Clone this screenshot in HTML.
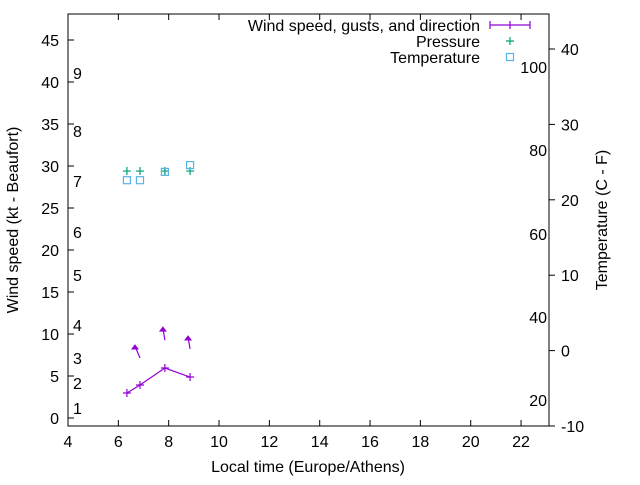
<!DOCTYPE html>
<html><head><meta charset="utf-8"><style>
body{margin:0;background:#fff}
svg{font-family:"Liberation Sans",sans-serif;font-size:16px}
</style></head><body>
<svg id="c" width="640" height="480"></svg>
<script>
const xTicks=[4,6,8,10,12,14,16,18,20,22];
const yTicks=[0,5,10,15,20,25,30,35,40,45];
const tTicks=[-10,0,10,20,30,40];
const times=[6.34,6.86,7.85,8.85];
const wind=[2.98,3.93,5.95,4.88];
const gust=[8.57,10.7,9.64];
const gustTimes=[6.86,7.85,8.85];
const gustDx=[-0.2,-0.08,-0.08];
const pressure=[29.4,29.4,29.4,29.4];
const temps=[22.6,22.6,23.7,24.6];
const beaufort=[["1",408],["2",383],["3",358],["4",325],["5",275],["6",232],["7",181],["8",131],["9",73]];
const fahr=[["20",400],["40",317],["60",234],["80",150],["100",67]];
const L=68,R=549,T=14,B=426;
const X=v=>L+(v-4)*25.17;
const Y=v=>418-v*8.4;
const TY=v=>426-(v+10)*7.54;
const s=document.getElementById('c');
const NS='http://www.w3.org/2000/svg';
function el(t,a,txt){const e=document.createElementNS(NS,t);for(const k in a)e.setAttribute(k,a[k]);if(txt!==undefined)e.textContent=txt;s.appendChild(e);return e;}
let e;
e=el('rect',{x:L,y:T,width:R-L,height:B-T,fill:'none',stroke:'#000'});


xTicks.forEach(v=>{
 e=el('line',{x1:X(v),x2:X(v),y1:B,y2:B-6,stroke:'#000'});
 
 
 e=el('line',{x1:X(v),x2:X(v),y1:T,y2:T+6,stroke:'#000'});
 
 
 e=el('text',{x:X(v),y:B+21,'text-anchor':'middle'},v);
 
 
});
yTicks.forEach(v=>{
 e=el('line',{x1:L,x2:L+6,y1:Y(v),y2:Y(v),stroke:'#000'});
 
 
 e=el('text',{x:L-9,y:Y(v)+6,'text-anchor':'end'},v);
 
 
});
tTicks.forEach(v=>{
 e=el('line',{x1:R,x2:R+6,y1:TY(v),y2:TY(v),stroke:'#000'});
 
 
 e=el('text',{x:R+12,y:TY(v)+6},v);
 
 
});
beaufort.forEach(b=>{
 e=el('text',{x:73,y:b[1]+6},b[0]);
 
 
});
fahr.forEach(f=>{
 e=el('text',{x:547,y:f[1]+6,'text-anchor':'end'},f[0]);
 
 
});
e=el('text',{x:308,y:472,'text-anchor':'middle'},'Local time (Europe/Athens)');


e=el('text',{x:18,y:220,'text-anchor':'middle',transform:'rotate(-90 18 220)'},'Wind speed (kt - Beaufort)');


e=el('text',{x:607,y:220,'text-anchor':'middle',transform:'rotate(-90 607 220)'},'Temperature (C - F)');


function plus(x,y,c,n){
 e=el('path',{d:`M${x-4} ${y}h8M${x} ${y-4}v8`,stroke:c,'stroke-width':1.2,fill:'none'});
 
 
}
e=el('polyline',{points:times.map((t,i)=>X(t)+','+Y(wind[i])).join(' '),fill:'none',stroke:'#9400d3','stroke-width':1.2});


times.forEach((t,i)=>plus(X(t),Y(wind[i]),'#9400d3','wind-point'));
gustTimes.forEach((t,i)=>{
 const hx=X(t+gustDx[i]),hy=Y(gust[i]),tx=X(t),ty=hy+12;
 e=el('line',{x1:tx,y1:ty,x2:hx,y2:hy,stroke:'#9400d3','stroke-width':1.2});
 
 
 e=el('path',{d:`M${hx} ${hy-1}l-3 4l6 0z`,fill:'#9400d3',stroke:'#9400d3'});
 
 
});
times.forEach((t,i)=>plus(X(t),Y(pressure[i]),'#009e73','pressure-point'));
times.forEach((t,i)=>{
 e=el('rect',{x:X(t)-3.5,y:TY(temps[i])-3.5,width:7,height:7,fill:'none',stroke:'#56b4e9','stroke-width':1.2});
 
 
});
const leg=[['Wind speed, gusts, and direction',25],['Pressure',41],['Temperature',57]];
leg.forEach(l=>{
 e=el('text',{x:480,y:l[1]+6,'text-anchor':'end'},l[0]);
 
 
});
e=el('path',{d:'M490 25h40M490 21v8M510 21v8M530 21v8',stroke:'#9400d3','stroke-width':1.2,fill:'none'});


plus(510,41,'#009e73','legend-pressure-sample');
e=el('rect',{x:506.5,y:53.5,width:7,height:7,fill:'none',stroke:'#56b4e9','stroke-width':1.2});


</script>
</body></html>
